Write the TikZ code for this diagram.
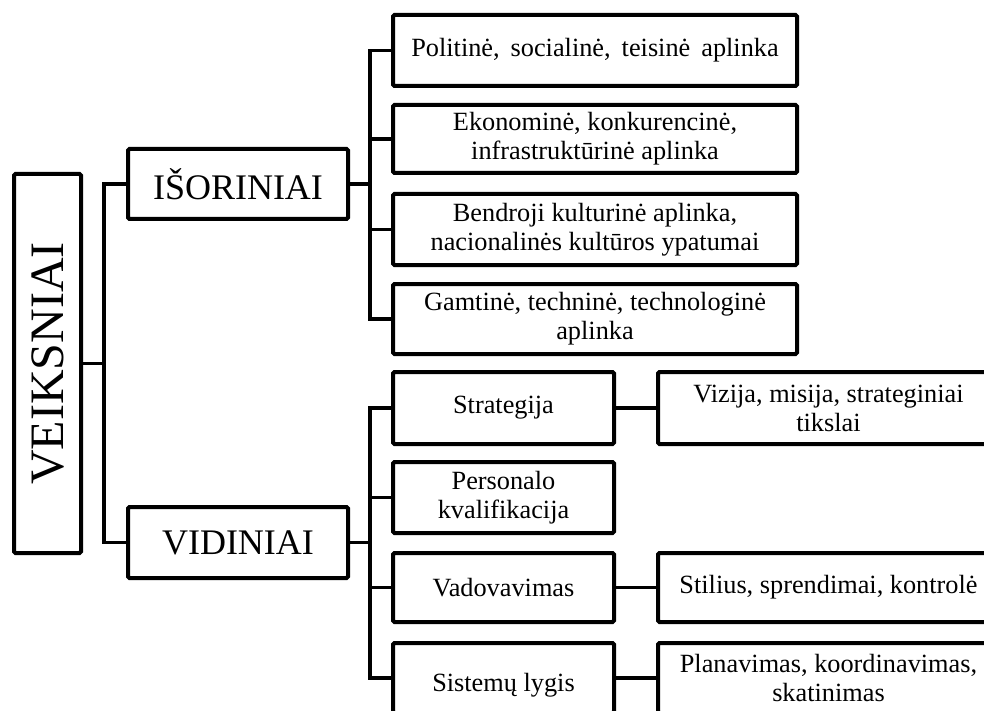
\documentclass[tikz,border=0pt]{standalone}
\usepackage{fontspec}
\setmainfont{Liberation Serif}
\begin{document}
\begin{tikzpicture}[x=1pt,y=-1pt,
  box/.style={draw=black, line width=4pt, rounded corners=1.5pt, align=center, inner sep=0pt,
    font=\fontsize{26.3}{29}\selectfont},
  big/.style={box, font=\fontsize{36}{40}\selectfont},
  conn/.style={line width=3.5pt, black}]
\useasboundingbox (0,0) rectangle (984,711);
\clip (0,0) rectangle (984,711);
\node[box, minimum width=379pt, minimum height=67pt, rotate=90, font=\fontsize{48}{52}\selectfont] (V) at (47.5,363.5) {VEIKSNIAI};
\node[big, minimum width=220pt, minimum height=70pt] (I) at (238,184) {IŠORINIAI};
\node[big, minimum width=220pt, minimum height=71pt] (D) at (238,542.5) {VIDINIAI};
\node[box, minimum width=404pt, minimum height=71pt] (E1) at (595,50.5) {Politinė,\, socialinė,\, teisinė\, aplinka};
\node[box, minimum width=404pt, minimum height=68pt] (E2) at (595,139) {Ekonominė, konkurencinė,\\infrastruktūrinė aplinka};
\node[box, minimum width=404pt, minimum height=71pt] (E3) at (595,229.5) {Bendroji kulturinė aplinka,\\nacionalinės kultūros ypatumai};
\node[box, minimum width=404pt, minimum height=70pt] (E4) at (595,319) {Gamtinė, techninė, technologinė\\aplinka};
\node[box, minimum width=221pt, minimum height=72pt] (S1) at (503.5,408) {Strategija};
\node[box, minimum width=221pt, minimum height=71pt] (S2) at (503.5,497.5) {Personalo\\kvalifikacija};
\node[box, minimum width=221pt, minimum height=69pt] (S3) at (503.5,587.5) {Vadovavimas};
\node[box, minimum width=221pt, minimum height=70pt] (S4) at (503.5,678) {\rule{0pt}{32pt}Sistemų lygis};
\node[box, minimum width=341pt, minimum height=72pt] (R1) at (828.5,408) {Vizija, misija, strateginiai\\tikslai};
\node[box, minimum width=341pt, minimum height=69pt] (R3) at (828.5,587.5) {Stilius, sprendimai, kontrolė};
\node[box, minimum width=341pt, minimum height=70pt] (R4) at (828.5,678) {Planavimas, koordinavimas,\\skatinimas};
\coordinate (c0) at (104,0);
\coordinate (c1) at (370,0);
\draw[conn] (V.south) -- (V.south -| c0) |- (I.west);
\draw[conn] (V.south -| c0) |- (D.west);
\foreach \n in {E1,E2,E3,E4}{\draw[conn] (I.east) -- (I.east -| c1) |- (\n.west);}
\foreach \n in {S1,S2,S3,S4}{\draw[conn] (D.east) -- (D.east -| c1) |- (\n.west);}
\draw[conn] (S1) -- (R1);
\draw[conn] (S3) -- (R3);
\draw[conn] (S4) -- (R4);
\end{tikzpicture}
\end{document}
